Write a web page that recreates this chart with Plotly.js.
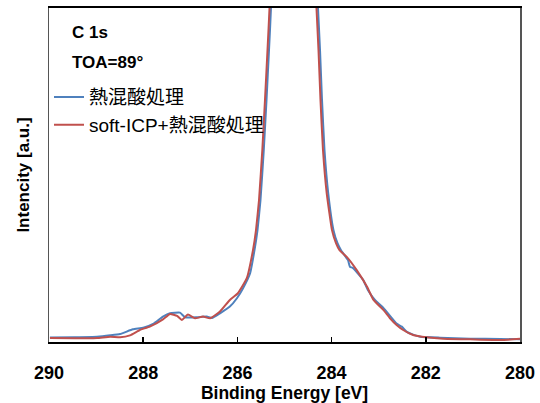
<!DOCTYPE html>
<html>
<head>
<meta charset="utf-8">
<script src="https://cdn.plot.ly/plotly-3.0.1.min.js"></script>
<style>html,body{margin:0;padding:0;background:#fff;}#chart{width:540px;height:403px;}</style>
</head>
<body>
<div id="chart"></div>
<script>
// Binding energy (eV) and intensity (a.u.)
const blueName = "熱混酸処理";
const redName = "soft-ICP+熱混酸処理";

const blueX = [289.98,289.45,288.98,288.70,288.49,288.22,288.00,287.79,287.58,287.43,287.22,287.11,286.86,286.65,286.54,286.37,286.16,286.01,285.88,285.73,285.637,285.573,285.510,285.440,285.382,285.329,285.287,285.20,285.05,284.90,284.80,284.65,284.50,284.40,284.289,284.246,284.204,284.151,284.072,283.960,283.875,283.800,283.652,283.61,283.55,283.33,283.23,283.08,282.90,282.76,282.62,282.51,282.41,282.27,282.12,281.70,281.06,280.42,280.00];
const blueY = [1.35,1.44,1.59,2.0,2.4,3.8,4.3,5.4,7.6,8.6,8.8,7.4,7.4,7.6,7.2,8.6,10.6,13.1,16.1,20.6,27.5,33.5,42.5,57.5,72.5,87.4,100,160,260,330,345,300,200,135,100,87.4,72.5,57.5,44.6,33.5,29.6,27.5,24.5,22.5,22.2,18.6,15.6,12.6,10.2,7.8,5.5,4.6,3.1,2.2,1.6,1.3,1.0,0.9,0.8];

const redX = [289.98,289.45,288.98,288.70,288.49,288.28,288.07,287.86,287.58,287.43,287.28,287.18,287.05,286.90,286.73,286.58,286.37,286.16,285.99,285.80,285.669,285.605,285.541,285.471,285.414,285.361,285.318,285.20,285.05,284.90,284.80,284.65,284.50,284.42,284.321,284.278,284.236,284.183,284.104,283.992,283.907,283.832,283.679,283.47,283.25,283.11,282.90,282.76,282.62,282.48,282.27,281.98,281.63,281.06,280.36,280.00];
const redY = [1.2,1.1,1.2,1.6,1.4,2.0,3.6,4.6,6.8,8.4,7.8,6.6,8.2,7.1,7.6,7.1,9.1,12.6,14.6,19.1,27.5,33.5,42.5,57.5,72.5,87.4,100,160,260,330,345,300,200,135,100,87.4,72.5,57.5,44.6,33.5,29.6,27.5,25.5,21.6,16.6,12.6,9.6,7.1,5.1,3.6,2.1,1.4,1.0,0.8,0.6,1.0];

const xTicks = [290,288,286,284,282,280];

const FONT = "Liberation Sans, Arial, 'Noto Sans CJK JP', sans-serif";

const traces = [
  {x: blueX, y: blueY, name: blueName, type: "scatter", mode: "lines",
   line: {color: "#4F81BD", width: 2, shape: "spline", smoothing: 0.4}, legendgroup: "a"},
  {x: redX, y: redY, name: redName, type: "scatter", mode: "lines",
   line: {color: "#C0504D", width: 2, shape: "spline", smoothing: 0.4}, legendgroup: "b"}
];

const layout = {
  width: 540, height: 403,
  margin: {l: 49, r: 20, t: 8, b: 61},
  paper_bgcolor: "#fff", plot_bgcolor: "#fff",
  font: {family: FONT, color: "#000"},
  showlegend: true,
  legend: {x: 0.0, y: 0.79, xanchor: "left", yanchor: "top",
           bgcolor: "rgba(0,0,0,0)", font: {size: 19, family: FONT},
           traceorder: "grouped", tracegroupgap: 0, itemwidth: 30},
  xaxis: {range: [290, 280], tickvals: xTicks, ticktext: xTicks.map(String),
          ticks: "inside", ticklen: 5, tickcolor: "#000", tickwidth: 1.5,
          showline: true, linecolor: "#000", linewidth: 2, mirror: true,
          showgrid: false, zeroline: false, ticklabelstandoff: 13,
          tickfont: {size: 18, family: FONT, weight: "bold"},
          title: {text: "<b>Binding Energy [eV]</b>", font: {size: 17.5, family: FONT}, standoff: 2}},
  yaxis: {range: [0, 100], showticklabels: false, ticks: "",
          showline: true, linecolor: "#555", linewidth: 1.5, mirror: true,
          showgrid: false, zeroline: false,
          title: {text: "<b>Intencity [a.u.]</b>", font: {size: 17, family: FONT}, standoff: 13}},
  annotations: [
    {xref: "paper", yref: "paper", x: 0.045, y: 0.928, xanchor: "left", yanchor: "middle",
     text: "<b>C 1s</b>", showarrow: false, font: {size: 17, family: FONT}},
    {xref: "paper", yref: "paper", x: 0.045, y: 0.838, xanchor: "left", yanchor: "middle",
     text: "<b>TOA=89°</b>", showarrow: false, font: {size: 17, family: FONT}}
  ]
};

Plotly.newPlot("chart", traces, layout, {displayModeBar: false, staticPlot: true});
</script>
</body>
</html>
